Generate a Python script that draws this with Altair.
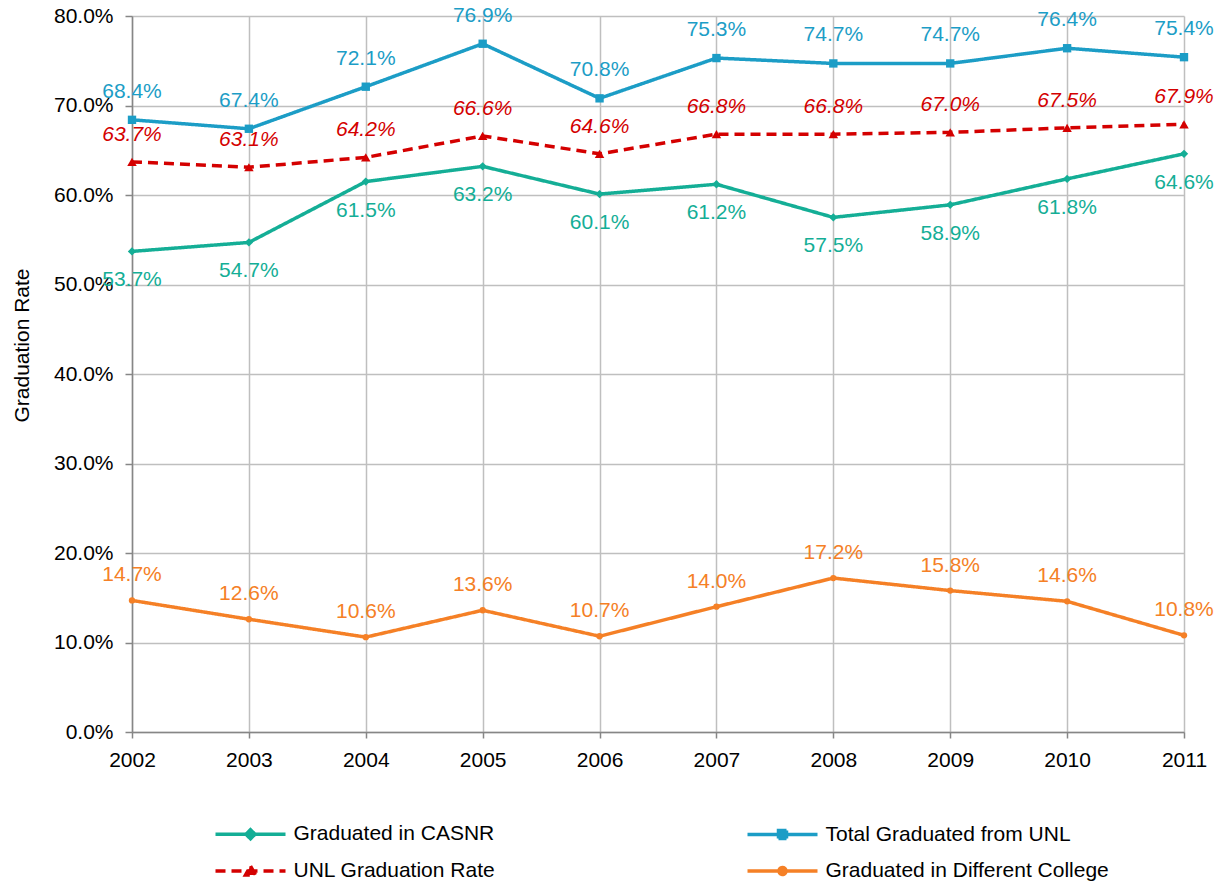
import altair as alt
import pandas as pd

years = ["2002", "2003", "2004", "2005", "2006", "2007", "2008", "2009", "2010", "2011"]
casnr = [53.7, 54.7, 61.5, 63.2, 60.1, 61.2, 57.5, 58.9, 61.8, 64.6]
total_unl = [68.4, 67.4, 72.1, 76.9, 70.8, 75.3, 74.7, 74.7, 76.4, 75.4]
unl_rate = [63.7, 63.1, 64.2, 66.6, 64.6, 66.8, 66.8, 67.0, 67.5, 67.9]
diff_college = [14.7, 12.6, 10.6, 13.6, 10.7, 14.0, 17.2, 15.8, 14.6, 10.8]

series_names = [
    "Graduated in CASNR",
    "Total Graduated from UNL",
    "UNL Graduation Rate",
    "Graduated in Different College",
]
colors = ["#14AE96", "#1C9DC6", "#D40000", "#F58026"]
shapes = ["diamond", "square", "triangle-up", "circle"]
marker_sizes = [70, 70, 90, 40]
dashes = [[1, 0], [1, 0], [10, 6], [1, 0]]
label_dy = [29, -28, -27, -25]

FONT = "Liberation Sans"

rows = []
for name, vals in zip(series_names, [casnr, total_unl, unl_rate, diff_college]):
    for yr, v in zip(years, vals):
        rows.append({"year": yr, "series": name, "value": v / 100.0})
df = pd.DataFrame(rows)

LINE = "M-3.5,0H3.5"
legend_paths = [
    LINE + "M0,-0.45L0.45,0L0,0.45L-0.45,0Z",
    LINE + "M-0.4,-0.4H0.4V0.4H-0.4Z",
    LINE + "M0,-0.5L0.5,0.4H-0.5Z",
    LINE + "M-0.35,0A0.35,0.35,0,1,0,0.35,0A0.35,0.35,0,1,0,-0.35,0Z",
]
shape_expr = "".join(
    f"datum.value === '{n}' ? '{p}' : " for n, p in zip(series_names[:-1], legend_paths[:-1])
) + f"'{legend_paths[-1]}'"
fill_expr = "".join(
    f"datum.value === '{n}' ? '{c}' : " for n, c in zip(series_names[:-1], colors[:-1])
) + f"'{colors[-1]}'"

color_scale = alt.Scale(domain=series_names, range=colors)

x_enc = alt.X(
    "year:O",
    scale=alt.Scale(type="point", padding=0),
    axis=alt.Axis(
        title=None,
        labelAngle=0,
        grid=True,
        gridColor="#BFBFBF",
        gridWidth=1.5,
        domainColor="#868686",
        domainWidth=1.5,
        tickColor="#868686",
        tickWidth=1.5,
        tickSize=6,
        labelPadding=11,
        labelFontSize=21,
        labelFont=FONT,
        labelColor="#000000",
    ),
)
y_enc = alt.Y(
    "value:Q",
    scale=alt.Scale(domain=[0, 0.8], nice=False, zero=True),
    axis=alt.Axis(
        values=[0, 0.1, 0.2, 0.3, 0.4, 0.5, 0.6, 0.7, 0.8],
        format=".1%",
        grid=True,
        gridColor="#BFBFBF",
        gridWidth=1.5,
        domainColor="#868686",
        domainWidth=1.5,
        tickColor="#868686",
        tickWidth=1.5,
        tickSize=7,
        labelPadding=12,
        labelFontSize=21,
        labelFont=FONT,
        labelColor="#000000",
        title="Graduation Rate",
        titleFont=FONT,
        titleFontSize=21,
        titleFontWeight="normal",
        titleColor="#000000",
        titleX=-100,
        titleY=329,
    ),
)

base = alt.Chart(df)

lines = base.mark_line(strokeWidth=3.5).encode(
    x=x_enc,
    y=y_enc,
    color=alt.Color(
        "series:N",
        scale=color_scale,
        legend=alt.Legend(
            orient="none",
            direction="horizontal",
            legendX=83,
            legendY=806,
            columns=2,
            title=None,
            padding=0,
            symbolSize=400,
            symbolStrokeWidth=3.5,
            symbolOffset=23.5,
            symbolType={"expr": shape_expr},
            symbolFillColor={"expr": fill_expr},
            labelOffset=31,
            columnPadding=244,
            rowPadding=13,
            labelFontSize=21,
            labelFont=FONT,
            labelColor="#000000",
            labelLimit=400,
        ),
    ),
    strokeDash=alt.StrokeDash(
        "series:N", scale=alt.Scale(domain=series_names, range=dashes), legend=None
    ),
    order=alt.Order("year:O"),
)

point_layers = []
for name, col, shp, sz in zip(series_names, colors, shapes, marker_sizes):
    p = base.transform_filter(alt.datum.series == name).mark_point(
        filled=True, opacity=1, size=sz, shape=shp, color=col
    ).encode(
        x=alt.X("year:O"),
        y=alt.Y("value:Q"),
    )
    point_layers.append(p)

texts = []
for name, col, dy in zip(series_names, colors, label_dy):
    t = base.transform_filter(alt.datum.series == name).mark_text(
        dy=dy,
        fontSize=21,
        font=FONT,
        fontStyle="italic" if name == "UNL Graduation Rate" else "normal",
        color=col,
        align="center",
        baseline="middle",
    ).encode(
        x=alt.X("year:O"),
        y=alt.Y("value:Q"),
        text=alt.Text("value:Q", format=".1%"),
    )
    texts.append(t)

chart = alt.layer(lines, *point_layers, *texts).properties(
    width=1052,
    height=716,
    autosize=alt.AutoSizeParams(type="none"),
    padding={"left": 124, "top": 8, "right": 32, "bottom": 160},
).configure_view(strokeWidth=0)

chart.save("out.html", embed_options={"renderer": "svg", "actions": False})
